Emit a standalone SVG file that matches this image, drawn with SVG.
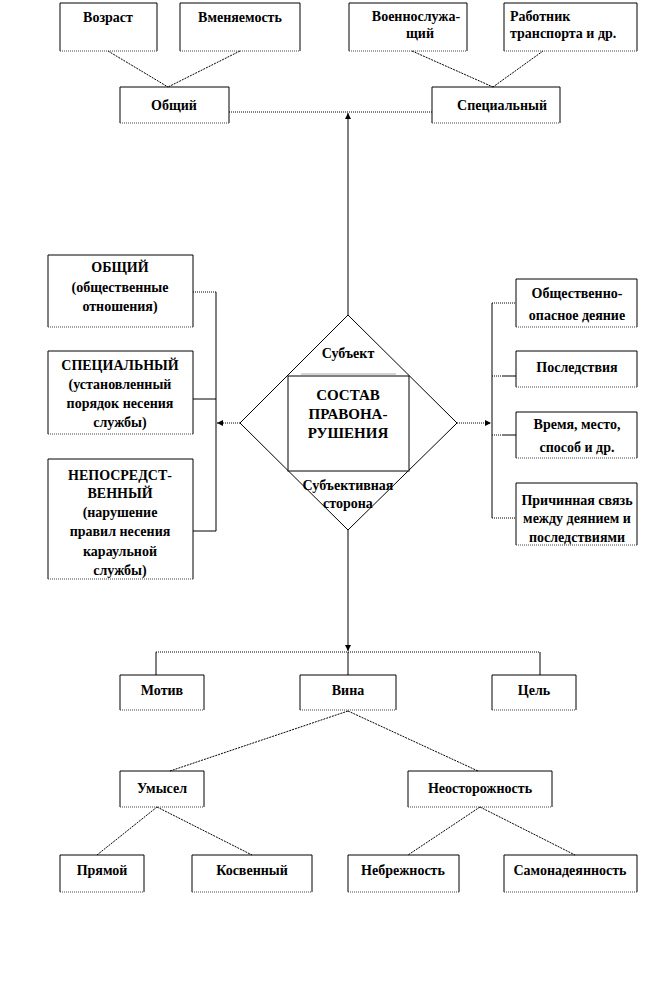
<svg xmlns="http://www.w3.org/2000/svg" width="651" height="987" viewBox="0 0 651 987">
<defs>
<style>
.bt{fill:none;stroke:#000;stroke-width:1}
.bb{stroke:#444;stroke-width:1;stroke-dasharray:1 1}
.c{text-anchor:middle}
.s{stroke:#000;stroke-width:1;fill:none}
.d{stroke:#000;stroke-width:1;fill:none;stroke-dasharray:1 1}
.dd{stroke:#000;stroke-width:1;fill:none;stroke-dasharray:2 1}
</style>
<marker id="ah" viewBox="0 0 10 10" refX="10" refY="5" markerWidth="6" markerHeight="6" orient="auto" markerUnits="userSpaceOnUse">
<path d="M0,0 L10,5 L0,10 z" fill="#000"/>
</marker>
</defs>
<rect x="0" y="0" width="651" height="987" fill="#fff"/>

<g id="connectors">
<path class="dd" d="M108,51 L168,87 M240,51 L168,87"/>
<path class="dd" d="M412,51 L493,87 M543,51 L493,87"/>
<path class="d" d="M229,112 L432,112"/>
<path class="s" d="M348,315 L348,113" marker-end="url(#ah)"/>
<path class="d" d="M240,423 L217,423" marker-end="url(#ah)"/>
<path class="s" d="M216,292 L216,531"/>
<path class="d" d="M193,292 L216,292"/>
<path class="s" d="M193,399 L216,399 M193,531 L216,531"/>
<path class="d" d="M457,423 L491,423" marker-end="url(#ah)"/>
<path class="s" d="M492,303 L492,518"/>
<path class="d" d="M492,303 L516,303 M492,376 L503,376 M492,435 L503,435 M492,518 L516,518"/>
<path class="s" d="M503,376 L516,376 M503,435 L516,435"/>
<path class="s" d="M348,530 L348,651" marker-end="url(#ah)"/>
<path class="d" d="M156,652 L540,652"/>
<path class="s" d="M156,652 L156,675 M540,652 L540,675 M348,652 L348,675"/>
<path class="dd" d="M348,711 L170,771 M348,711 L478,771"/>
<path class="dd" d="M157,807 L97,855 M157,807 L252,855"/>
<path class="dd" d="M480,807 L408,855 M480,807 L575,855"/>
</g>

<g font-family="'Liberation Serif', 'DejaVu Serif', serif" font-weight="bold" font-size="14" fill="#000">
<g id="vozrast">
<path class="bt" d="M60,51 L60,3 L157,3 L157,51"/><path class="bb" d="M60,51 L157,51"/>
<text class="c" x="108" y="22">Возраст</text>
</g>
<g id="vmenyaemost">
<path class="bt" d="M180,51 L180,3 L300,3 L300,51"/><path class="bb" d="M180,51 L300,51"/>
<text class="c" x="240" y="22">Вменяемость</text>
</g>
<g id="voennosluzhashchiy">
<path class="bt" d="M349,51 L349,3 L467,3 L467,51"/><path class="bb" d="M349,51 L467,51"/>
<text class="c" x="416" y="21">Военнослужа-</text>
<text class="c" x="420" y="38">щий</text>
</g>
<g id="rabotnik">
<path class="bt" d="M504,51 L504,3 L637,3 L637,51"/><path class="bb" d="M504,51 L637,51"/>
<text x="510" y="21">Работник</text>
<text x="510" y="38">транспорта и др.</text>
</g>
<g id="obshchiy">
<path class="bt" d="M120,123 L120,87 L229,87 L229,123"/><path class="bb" d="M120,123 L229,123"/>
<text class="c" x="174" y="110">Общий</text>
</g>
<g id="specialnyy">
<path class="bt" d="M432,123 L432,87 L560,87 L560,123"/><path class="bb" d="M432,123 L560,123"/>
<text class="c" x="502" y="110">Специальный</text>
</g>

<g id="sostav">
<path class="s" d="M348,315 L457,423 L348,530 L240,423 Z"/>
<path d="M301,374 L396,374" stroke="#aaa" stroke-width="1"/>
<rect x="288" y="376" width="121" height="95" fill="#fff" stroke="#000" stroke-width="1"/>
<text class="c" x="348" y="358">Субъект</text>
<text class="c" x="348" y="400" font-size="15">СОСТАВ</text>
<text class="c" x="348" y="419" font-size="15">ПРАВОНА-</text>
<text class="c" x="348" y="438" font-size="15">РУШЕНИЯ</text>
<text class="c" x="348" y="490">Субъективная</text>
<text class="c" x="348" y="508">сторона</text>
</g>

<g id="obj-obshchiy">
<path class="bt" d="M48,327 L48,255 L193,255 L193,327"/><path class="bb" d="M48,327 L193,327"/>
<text class="c" x="120" y="272">ОБЩИЙ</text>
<text class="c" x="120" y="292">(общественные</text>
<text class="c" x="120" y="311">отношения)</text>
</g>
<g id="obj-specialnyy">
<path class="bt" d="M48,434 L48,351 L193,351 L193,434"/><path class="bb" d="M48,434 L193,434"/>
<text class="c" x="120" y="370">СПЕЦИАЛЬНЫЙ</text>
<text class="c" x="120" y="389">(установленный</text>
<text class="c" x="120" y="408">порядок несения</text>
<text class="c" x="120" y="427">службы)</text>
</g>
<g id="obj-neposredstvennyy">
<path class="bt" d="M48,579 L48,459 L193,459 L193,579"/><path class="bb" d="M48,579 L193,579"/>
<text class="c" x="120" y="480">НЕПОСРЕДСТ-</text>
<text class="c" x="120" y="498">ВЕННЫЙ</text>
<text class="c" x="120" y="517">(нарушение</text>
<text class="c" x="120" y="536">правил несения</text>
<text class="c" x="120" y="556">караульной</text>
<text class="c" x="120" y="575">службы)</text>
</g>

<g id="deyanie">
<path class="bt" d="M516,327 L516,279 L637,279 L637,327"/><path class="bb" d="M516,327 L637,327"/>
<text class="c" x="577" y="298">Общественно-</text>
<text class="c" x="577" y="320">опасное деяние</text>
</g>
<g id="posledstviya">
<path class="bt" d="M516,387 L516,351 L637,351 L637,387"/><path class="bb" d="M516,387 L637,387"/>
<text class="c" x="577" y="372">Последствия</text>
</g>
<g id="vremya">
<path class="bt" d="M516,458 L516,412 L637,412 L637,458"/><path class="bb" d="M516,458 L637,458"/>
<text class="c" x="577" y="429">Время, место,</text>
<text class="c" x="577" y="452">способ и др.</text>
</g>
<g id="prichinnaya">
<path class="bt" d="M516,545 L516,483 L637,483 L637,545"/><path class="bb" d="M516,545 L637,545"/>
<text class="c" x="577" y="505">Причинная связь</text>
<text class="c" x="577" y="523">между деянием и</text>
<text class="c" x="577" y="542">последствиями</text>
</g>

<g id="motiv">
<path class="bt" d="M120,710 L120,675 L204,675 L204,710"/><path class="bb" d="M120,710 L204,710"/>
<text class="c" x="162" y="695">Мотив</text>
</g>
<g id="vina">
<path class="bt" d="M300,710 L300,675 L396,675 L396,710"/><path class="bb" d="M300,710 L396,710"/>
<text class="c" x="348" y="695">Вина</text>
</g>
<g id="cel">
<path class="bt" d="M492,710 L492,675 L576,675 L576,710"/><path class="bb" d="M492,710 L576,710"/>
<text class="c" x="534" y="695">Цель</text>
</g>
<g id="umysel">
<path class="bt" d="M120,807 L120,771 L204,771 L204,807"/><path class="bb" d="M120,807 L204,807"/>
<text class="c" x="162" y="793">Умысел</text>
</g>
<g id="neostorozhnost">
<path class="bt" d="M408,807 L408,771 L552,771 L552,807"/><path class="bb" d="M408,807 L552,807"/>
<text class="c" x="480" y="793">Неосторожность</text>
</g>
<g id="pryamoy">
<path class="bt" d="M60,892 L60,855 L144,855 L144,892"/><path class="bb" d="M60,892 L144,892"/>
<text class="c" x="102" y="875">Прямой</text>
</g>
<g id="kosvennyy">
<path class="bt" d="M192,892 L192,855 L312,855 L312,892"/><path class="bb" d="M192,892 L312,892"/>
<text class="c" x="252" y="875">Косвенный</text>
</g>
<g id="nebrezhnost">
<path class="bt" d="M348,892 L348,855 L459,855 L459,892"/><path class="bb" d="M348,892 L459,892"/>
<text class="c" x="403" y="875">Небрежность</text>
</g>
<g id="samonadeyannost">
<path class="bt" d="M504,892 L504,855 L637,855 L637,892"/><path class="bb" d="M504,892 L637,892"/>
<text class="c" x="570" y="875">Самонадеянность</text>
</g>
</g>
</svg>
